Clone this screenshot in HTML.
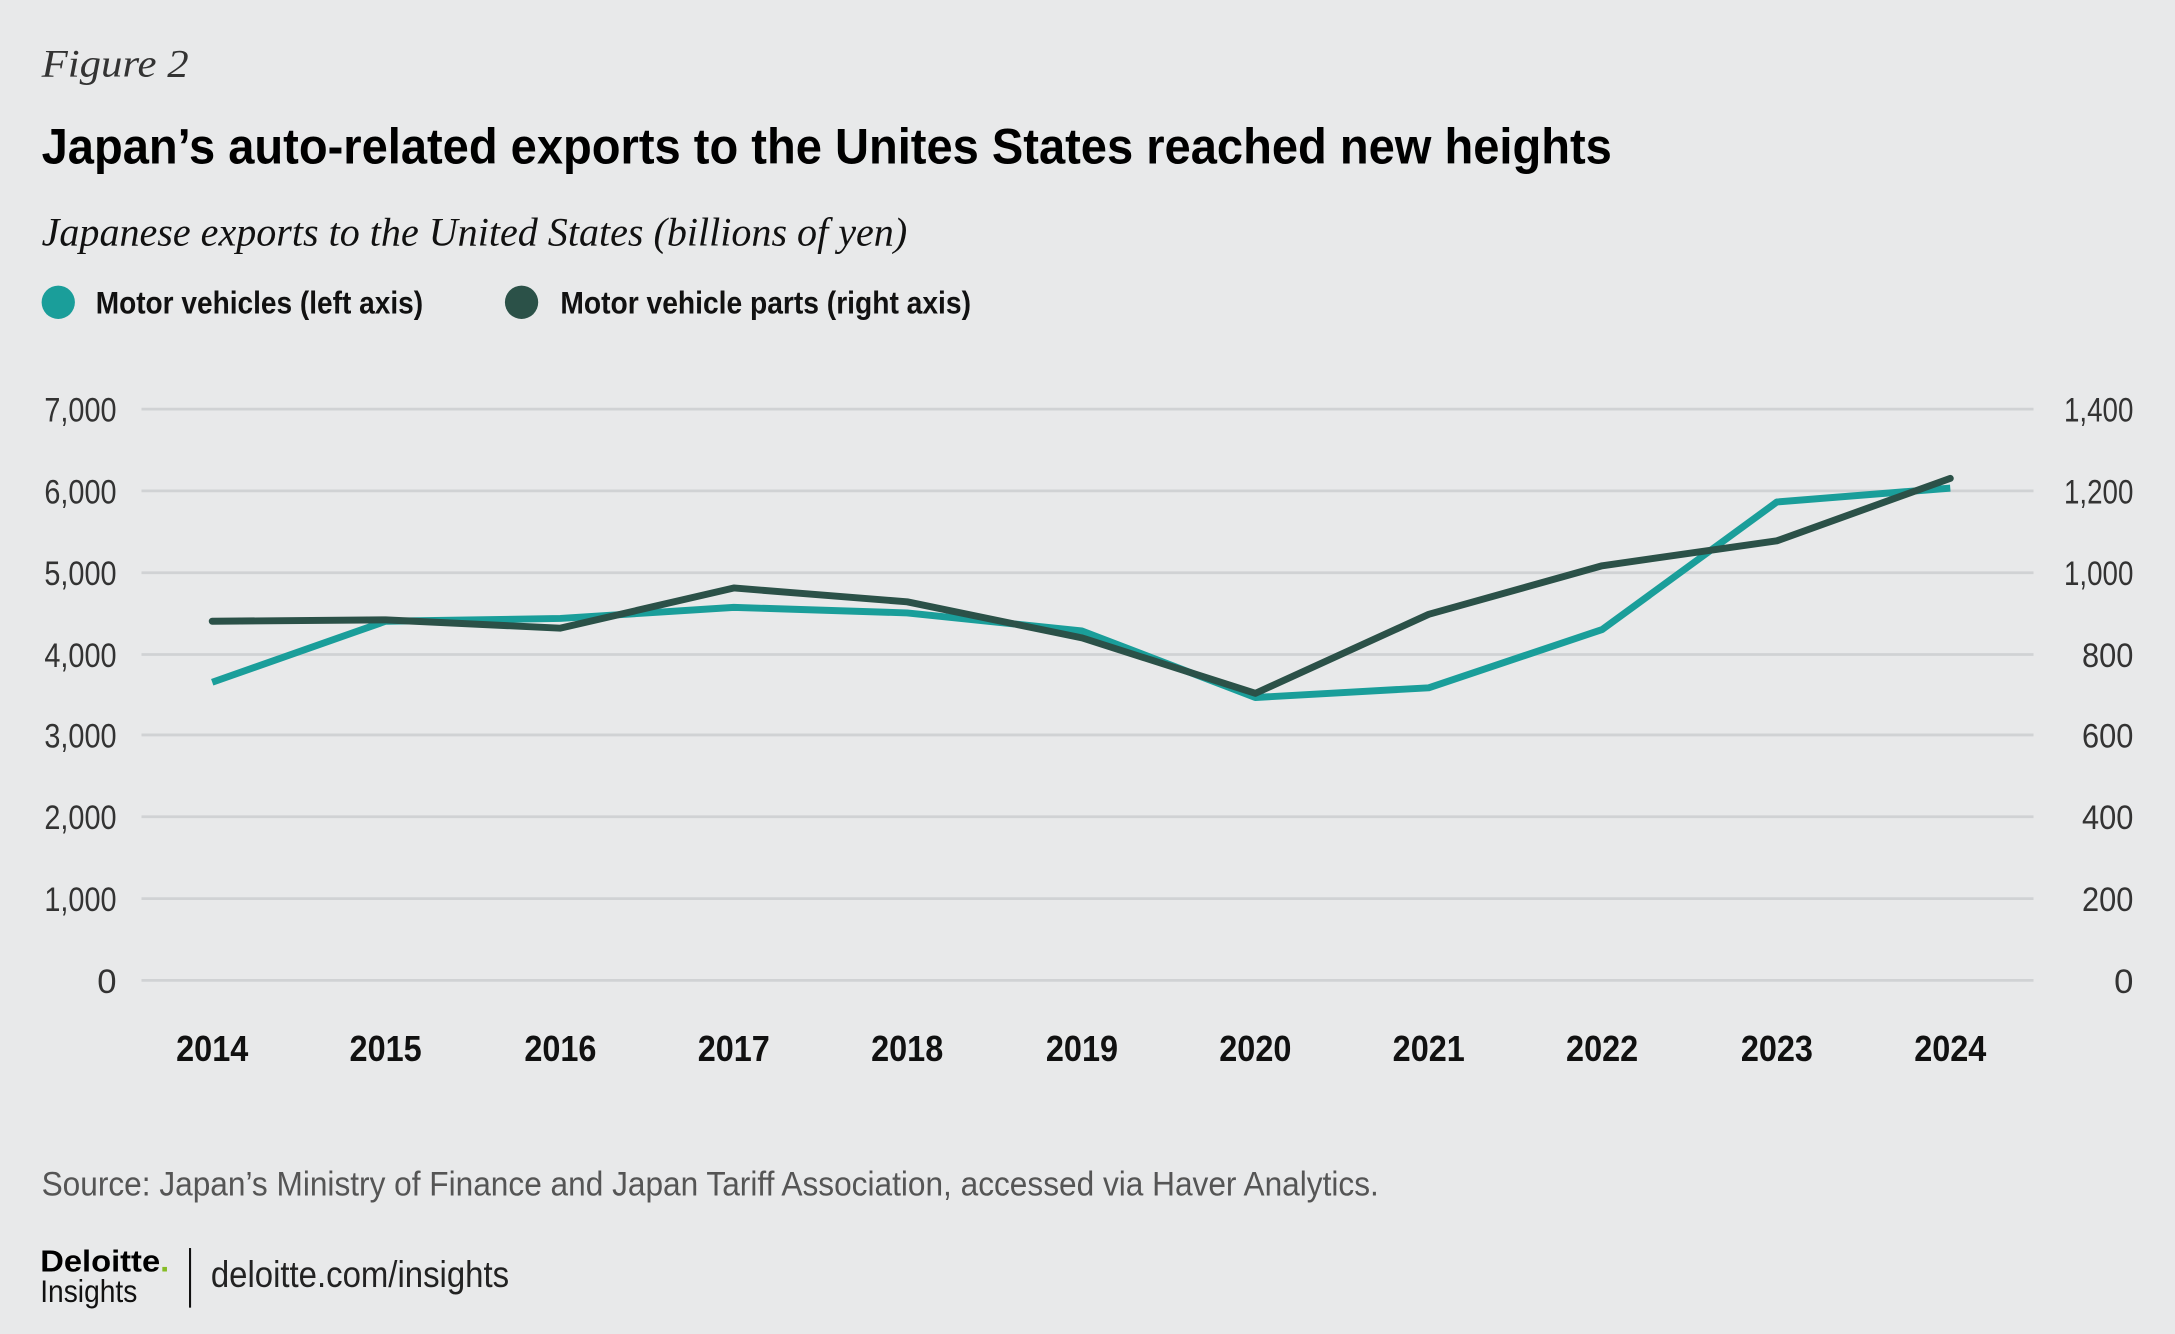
<!DOCTYPE html>
<html><head><meta charset="utf-8"><style>
html,body{margin:0;padding:0;background:#e8e9ea;}
svg{display:block}
.n{font-family:"Liberation Sans Narrow","Liberation Sans",sans-serif}
.s{font-family:"Liberation Serif",serif;font-style:italic}
</style></head><body>
<svg width="2175" height="1334" viewBox="0 0 1568 962" preserveAspectRatio="none" xmlns="http://www.w3.org/2000/svg">
<rect width="1568" height="962" fill="#e8e9ea"/>
<text x="30" y="55" class="s" font-size="28" fill="#333" textLength="106" lengthAdjust="spacingAndGlyphs">Figure 2</text>
<text x="30" y="118" class="n" font-size="36" font-weight="bold" fill="#000" textLength="1132" lengthAdjust="spacingAndGlyphs">Japan’s auto-related exports to the Unites States reached new heights</text>
<text x="30" y="177" class="s" font-size="29" fill="#111" textLength="624" lengthAdjust="spacingAndGlyphs">Japanese exports to the United States (billions of yen)</text>
<circle cx="42" cy="218" r="12" fill="#1a9e9a"/>
<text x="69" y="226" class="n" font-size="23" font-weight="bold" fill="#111" textLength="236" lengthAdjust="spacingAndGlyphs">Motor vehicles (left axis)</text>
<circle cx="376" cy="218" r="12" fill="#2b5148"/>
<text x="404" y="226" class="n" font-size="23" font-weight="bold" fill="#111" textLength="296" lengthAdjust="spacingAndGlyphs">Motor vehicle parts (right axis)</text>
<g stroke="#d0d2d4" stroke-width="2">
<line x1="102" x2="1466" y1="295" y2="295"/><line x1="102" x2="1466" y1="354" y2="354"/>
<line x1="102" x2="1466" y1="413" y2="413"/><line x1="102" x2="1466" y1="472" y2="472"/>
<line x1="102" x2="1466" y1="530" y2="530"/><line x1="102" x2="1466" y1="589" y2="589"/>
<line x1="102" x2="1466" y1="648" y2="648"/><line x1="102" x2="1466" y1="707" y2="707"/>
</g>
<g class="n" font-size="25" fill="#333" text-anchor="end" lengthAdjust="spacingAndGlyphs">
<text x="84" y="304" textLength="52" lengthAdjust="spacingAndGlyphs">7,000</text><text x="84" y="363" textLength="52" lengthAdjust="spacingAndGlyphs">6,000</text><text x="84" y="422" textLength="52" lengthAdjust="spacingAndGlyphs">5,000</text><text x="84" y="481" textLength="52" lengthAdjust="spacingAndGlyphs">4,000</text><text x="84" y="539" textLength="52" lengthAdjust="spacingAndGlyphs">3,000</text><text x="84" y="598" textLength="52" lengthAdjust="spacingAndGlyphs">2,000</text><text x="84" y="657" textLength="52" lengthAdjust="spacingAndGlyphs">1,000</text><text x="84" y="716">0</text>
</g>
<g class="n" font-size="25" fill="#333" text-anchor="end">
<text x="1538" y="304" textLength="50" lengthAdjust="spacingAndGlyphs">1,400</text><text x="1538" y="363" textLength="50" lengthAdjust="spacingAndGlyphs">1,200</text><text x="1538" y="422" textLength="50" lengthAdjust="spacingAndGlyphs">1,000</text><text x="1538" y="481" textLength="37" lengthAdjust="spacingAndGlyphs">800</text><text x="1538" y="539" textLength="37" lengthAdjust="spacingAndGlyphs">600</text><text x="1538" y="598" textLength="37" lengthAdjust="spacingAndGlyphs">400</text><text x="1538" y="657" textLength="37" lengthAdjust="spacingAndGlyphs">200</text><text x="1538" y="716">0</text>
</g>
<g class="n" font-size="26" font-weight="bold" fill="#111" text-anchor="middle">
<text x="153" y="765" textLength="52" lengthAdjust="spacingAndGlyphs">2014</text><text x="278" y="765" textLength="52" lengthAdjust="spacingAndGlyphs">2015</text><text x="404" y="765" textLength="52" lengthAdjust="spacingAndGlyphs">2016</text><text x="529" y="765" textLength="52" lengthAdjust="spacingAndGlyphs">2017</text><text x="654" y="765" textLength="52" lengthAdjust="spacingAndGlyphs">2018</text><text x="780" y="765" textLength="52" lengthAdjust="spacingAndGlyphs">2019</text><text x="905" y="765" textLength="52" lengthAdjust="spacingAndGlyphs">2020</text><text x="1030" y="765" textLength="52" lengthAdjust="spacingAndGlyphs">2021</text><text x="1155" y="765" textLength="52" lengthAdjust="spacingAndGlyphs">2022</text><text x="1281" y="765" textLength="52" lengthAdjust="spacingAndGlyphs">2023</text><text x="1406" y="765" textLength="52" lengthAdjust="spacingAndGlyphs">2024</text>
</g>
<polyline fill="none" stroke="#1a9e9a" stroke-width="5" stroke-linejoin="round" points="153,492 278,448 404,446 529,438 654,442 780,455 905,503 1030,496 1155,454 1281,362 1406,352"/>
<polyline fill="none" stroke="#2b5148" stroke-width="5" stroke-linejoin="round" stroke-linecap="round" points="153,448 278,447 404,453 529,424 654,434 780,460 905,500 1030,443 1155,408 1281,390 1406,345"/>
<text x="30" y="862" class="n" font-size="25" fill="#555" textLength="964" lengthAdjust="spacingAndGlyphs">Source: Japan’s Ministry of Finance and Japan Tariff Association, accessed via Haver Analytics.</text>
<text x="29" y="917" class="n" font-size="22" font-weight="bold" fill="#000" textLength="93" lengthAdjust="spacingAndGlyphs">Deloitte<tspan fill="#86bc25">.</tspan></text>
<text x="29" y="939" class="n" font-size="23" fill="#111" textLength="70" lengthAdjust="spacingAndGlyphs">Insights</text>
<line x1="137" x2="137" y1="900" y2="943" stroke="#111" stroke-width="1.5"/>
<text x="152" y="928" class="n" font-size="27" fill="#222" textLength="215" lengthAdjust="spacingAndGlyphs">deloitte.com/insights</text>
</svg>
</body></html>
